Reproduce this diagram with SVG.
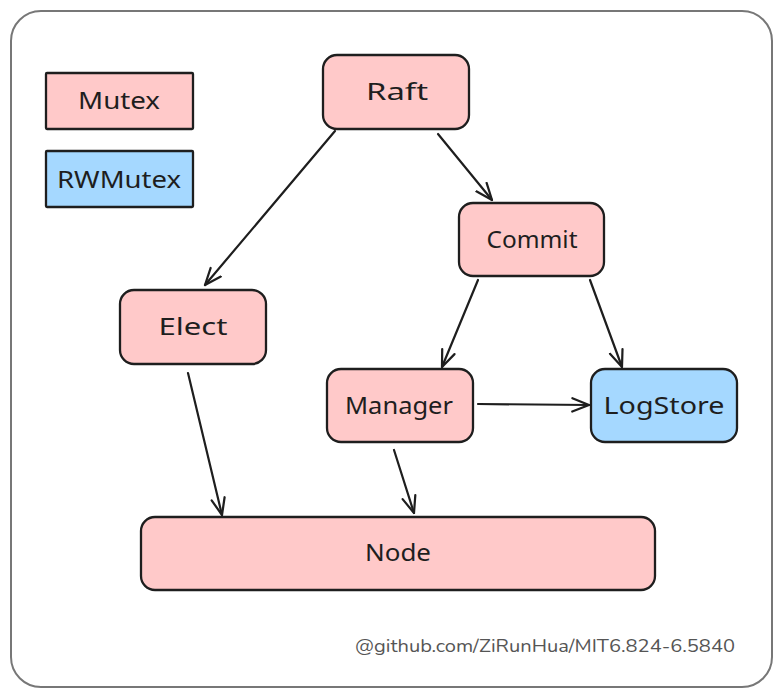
<svg xmlns="http://www.w3.org/2000/svg" width="782" height="697" viewBox="0 0 782 697">
<defs>
<marker id="ah" markerUnits="userSpaceOnUse" markerWidth="20" markerHeight="20" viewBox="-16 -8 18 16" refX="0" refY="0" orient="auto">
<path d="M-15,-6 L0,0 L-15,6" fill="none" stroke="#1e1e1e" stroke-width="2" stroke-linecap="round" stroke-linejoin="round"/>
</marker>
</defs>
<style>
.box{stroke:#1e1e1e;stroke-width:2.3}
.red{fill:#ffc9c9}
.blue{fill:#a5d8ff}
.lbl{font-family:"Noto Sans","DejaVu Sans",sans-serif;font-size:24px;fill:#1e1e1e;text-anchor:middle;dominant-baseline:central}
.edge{stroke:#1e1e1e;stroke-width:2.2;fill:none;stroke-linecap:round}
</style>
<rect x="0" y="0" width="782" height="697" fill="#ffffff"/>
<rect x="11" y="11" width="761" height="676" rx="30" fill="#ffffff" stroke="#777777" stroke-width="2"/>
<g id="legend-mutex"><rect class="box red" x="46" y="73" width="147" height="56" rx="1"/><text class="lbl" x="119" y="99" textLength="82" lengthAdjust="spacingAndGlyphs">Mutex</text></g>
<g id="legend-rwmutex"><rect class="box blue" x="46" y="151" width="147" height="56" rx="1"/><text class="lbl" x="119" y="178" textLength="124" lengthAdjust="spacingAndGlyphs">RWMutex</text></g>
<g id="node-raft"><rect class="box red" x="323" y="55" width="146" height="74" rx="14"/><text class="lbl" x="397" y="90" textLength="62" lengthAdjust="spacingAndGlyphs">Raft</text></g>
<g id="node-commit"><rect class="box red" x="459" y="203" width="145" height="73" rx="14"/><text class="lbl" x="532" y="238" textLength="91" lengthAdjust="spacingAndGlyphs">Commit</text></g>
<g id="node-elect"><rect class="box red" x="120" y="290" width="146" height="74" rx="14"/><text class="lbl" x="193" y="325" textLength="69" lengthAdjust="spacingAndGlyphs">Elect</text></g>
<g id="node-manager"><rect class="box red" x="327" y="369" width="146" height="73" rx="14"/><text class="lbl" x="399" y="404" textLength="108" lengthAdjust="spacingAndGlyphs">Manager</text></g>
<g id="node-logstore"><rect class="box blue" x="591" y="369" width="146" height="73" rx="14"/><text class="lbl" x="664" y="404" textLength="121" lengthAdjust="spacingAndGlyphs">LogStore</text></g>
<g id="node-node"><rect class="box red" x="141" y="517" width="514" height="73" rx="14"/><text class="lbl" x="398" y="551" textLength="66" lengthAdjust="spacingAndGlyphs">Node</text></g>
<g id="connectors">
<line class="edge" x1="335" y1="131" x2="205" y2="285" marker-end="url(#ah)"/>
<line class="edge" x1="438" y1="134" x2="492" y2="200" marker-end="url(#ah)"/>
<line class="edge" x1="478" y1="280" x2="442" y2="367" marker-end="url(#ah)"/>
<line class="edge" x1="590" y1="280" x2="622" y2="367" marker-end="url(#ah)"/>
<line class="edge" x1="478" y1="404" x2="589" y2="405" marker-end="url(#ah)"/>
<line class="edge" x1="188" y1="373" x2="222" y2="515" marker-end="url(#ah)"/>
<line class="edge" x1="394" y1="450" x2="414" y2="513" marker-end="url(#ah)"/>
</g>
<text x="735" y="652" font-family="Nunito,'Noto Sans','Open Sans',sans-serif" font-size="18" fill="#555555" text-anchor="end" textLength="380" lengthAdjust="spacingAndGlyphs">@github.com/ZiRunHua/MIT6.824-6.5840</text>
</svg>
